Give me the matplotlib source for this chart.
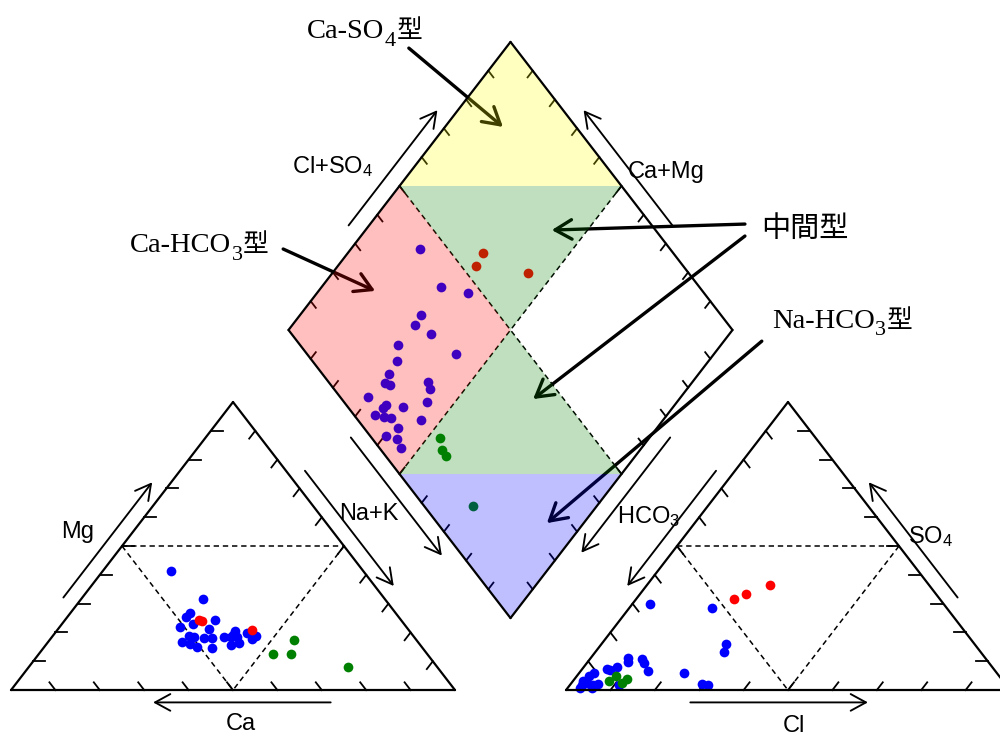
import numpy as np
import matplotlib
matplotlib.use('Agg')
import matplotlib.pyplot as plt

plt.rcParams['mathtext.default'] = 'regular'

# cation triangle, % (Ca = 100 - Mg - NaK)
cat_mg_blue = [41.4, 31.6, 26.8, 25.5, 22.8, 22.0, 18.8, 18.3, 16.8, 15.9, 14.8, 18.2, 18.2,
               21.1, 24.5, 14.5, 18.5, 18.3, 20.6, 18.5, 15.6, 16.2, 19.9, 17.9, 18.8, 19.1]
cat_nak_blue = [15.3, 27.5, 26.9, 26.6, 29.5, 27.1, 30.8, 32.1, 30.2, 32.4, 34.6, 34.4, 36.2,
                34.1, 33.7, 38.1, 38.7, 40.4, 40.2, 41.7, 41.7, 43.3, 43.1, 45.4, 45.8, 40.5]
cat_mg_red = [24.3, 20.9, 24.0]
cat_nak_red = [30.3, 43.8, 31.0]
cat_mg_green = [17.4, 12.7, 12.7, 8.1]
cat_nak_green = [55.1, 52.7, 56.8, 71.9]

# anion triangle, % (HCO3 = 100 - SO4 - Cl)
an_so4_blue = [29.8, 28.4, 16.0, 13.1, 5.8, 2.1, 1.6, 11.0, 9.8, 10.7, 9.5, 6.6, 8.1,
               6.9, 7.2, 6.0, 4.9, 3.2, 1.7, 1.7, 2.1, 2.3, 1.8, 0.9, 0.9]
an_cl_blue = [4.0, 18.7, 28.0, 29.0, 23.7, 29.5, 31.1, 8.4, 9.1, 11.8, 12.8, 15.2, 7.4,
              6.4, 5.6, 3.3, 2.8, 2.2, 2.7, 5.3, 6.2, 3.5, 11.0, 2.7, 5.3]
an_so4_red = [31.6, 33.4, 36.6]
an_cl_red = [22.1, 23.9, 27.6]
an_so4_green = [3.2, 5.0, 3.9, 2.3]
an_cl_green = [8.1, 8.8, 11.9, 11.4]

# diamond, % (Cl+SO4 and Na+K)
dia_clso4_blue = [43.7, 41.8, 46.9, 32.5, 29.4, 31.3, 22.0, 33.5, 19.1, 15.1, 12.4, 13.4, 22.3, 21.5,
                  6.2, 9.1, 7.6, 12.4, 18.8, 4.7, 6.4, 7.7, 14.2, 7.7, 3.6, 5.6, 4.9]
dia_nak_blue = [15.5, 26.9, 34.0, 27.2, 27.6, 32.7, 27.2, 42.0, 29.9, 30.3, 30.9, 32.5, 40.4, 42.1,
                29.6, 35.0, 34.8, 39.0, 43.7, 34.2, 36.6, 38.3, 45.5, 41.8, 40.4, 43.4, 45.9]
dia_clso4_red = [57.2, 53.4, 64.0]
dia_nak_red = [30.3, 31.1, 44.1]
dia_clso4_green = [15.4, 13.7, 13.6, 11.0]
dia_nak_green = [53.0, 55.4, 57.2, 72.2]

GAP = 0.25
H = np.sqrt(3) / 2

# geometry
A = np.array([0.0, 0.0]); Bv = np.array([1.0, 0.0]); C = np.array([0.5, H])
A2 = np.array([1 + GAP, 0.0]); B2 = np.array([2 + GAP, 0.0]); C2 = np.array([1.5 + GAP, H])
DB = np.array([1 + GAP / 2, H * GAP])
DL = DB + np.array([-0.5, H])
DR = DB + np.array([0.5, H])
DT = DL + np.array([0.5, H])
DC = (DL + DR) / 2


def cation_xy(mg, nak):
    mg = np.asarray(mg) / 100; nak = np.asarray(nak) / 100
    return nak + 0.5 * mg, H * mg


def anion_xy(so4, cl):
    so4 = np.asarray(so4) / 100; cl = np.asarray(cl) / 100
    return 1 + GAP + cl + 0.5 * so4, H * so4


def diamond_xy(clso4, nak):
    b = np.asarray(clso4) / 100; a = np.asarray(nak) / 100
    return DL[0] + 0.5 * (a + b), DL[1] + H * (b - a)


def edge(ax, p, q, nxt, tick, z=5):
    ax.plot([p[0], q[0]], [p[1], q[1]], color='black', lw=1.6, zorder=z, solid_capstyle='round')
    d = (nxt - q) / np.linalg.norm(nxt - q)
    for i in range(1, 10):
        s = p + (q - p) * i / 10
        ax.plot([s[0], s[0] + d[0] * tick], [s[1], s[1] + d[1] * tick], color='black', lw=1.3, zorder=2)


def axis_arrow(ax, p, q, t0, t1, off, centre):
    v = q - p
    n = np.array([-v[1], v[0]]) / np.linalg.norm(v)
    if np.dot(n, (p + q) / 2 - centre) < 0:
        n = -n
    s = p + v * t0 + n * off
    e = p + v * t1 + n * off
    ax.annotate('', xy=e, xytext=s,
                arrowprops=dict(arrowstyle='->,head_length=0.55,head_width=0.3', lw=1.35,
                                color='black', shrinkA=0, shrinkB=0, mutation_scale=20))


def dashed(ax, p, q):
    ax.plot([p[0], q[0]], [p[1], q[1]], color='black', lw=1.1, ls=(0, (3.5, 2.5)), zorder=2)


def note_arrow(ax, start, end):
    ax.annotate('', xy=end, xytext=start,
                arrowprops=dict(arrowstyle='->,head_length=0.6,head_width=0.35', lw=2.4,
                                color='black', shrinkA=0, shrinkB=0, mutation_scale=20), zorder=3)


def type_label(ax, x, y, main, sub, tail):
    serif = dict(family='Liberation Serif', color='black')
    t1 = ax.text(x, y, main, fontsize=20.5, ha='left', va='baseline', zorder=6, **serif)
    t2 = ax.annotate(sub, xy=(1, y), xycoords=(t1, 'data'), xytext=(0.3, -5.5),
                     textcoords='offset points', fontsize=16, ha='left', va='baseline', zorder=6, **serif)
    ax.annotate(tail, xy=(1, y), xycoords=(t2, 'data'), xytext=(0.5, 0),
                textcoords='offset points', fontsize=18.5, ha='left', va='baseline',
                family=['Noto Sans CJK JP', 'DejaVu Sans'], zorder=6)


fig = plt.figure(figsize=(10, 7.36), dpi=100)
ax = fig.add_axes([0, 0, 1, 1])
ax.set_xlim(-0.0248, 2.2275)
ax.set_ylim(-0.138, 2.0746)
ax.axis('off')

# triangles
tri_c = (A + Bv + C) / 3
edge(ax, A, Bv, C, 0.027)
edge(ax, Bv, C, A, 0.027)
edge(ax, C, A, Bv, 0.027)
tri_c2 = (A2 + B2 + C2) / 3
edge(ax, A2, C2, B2, 0.027)
edge(ax, C2, B2, A2, 0.027)
edge(ax, B2, A2, C2, 0.027)
for P, Q, R in [(A, Bv, C), (A2, B2, C2)]:
    mPR, mQR, mPQ = (P + R) / 2, (Q + R) / 2, (P + Q) / 2
    dashed(ax, mPR, mQR)
    dashed(ax, mPR, mPQ)
    dashed(ax, mQR, mPQ)

# diamond
edge(ax, DL, DT, DR, 0.023)
edge(ax, DT, DR, DB, 0.023)
edge(ax, DR, DB, DL, 0.023)
edge(ax, DB, DL, DT, 0.023)
mLT, mRT, mLB, mRB = (DL + DT) / 2, (DR + DT) / 2, (DL + DB) / 2, (DR + DB) / 2
dashed(ax, mLT, mRB)
dashed(ax, mRT, mLB)

# points
ms = 7.0
groups = [
    (cation_xy, [(cat_mg_blue, cat_nak_blue, 'blue'), (cat_mg_green, cat_nak_green, 'green'),
                 (cat_mg_red, cat_nak_red, 'red')]),
    (anion_xy, [(an_so4_blue, an_cl_blue, 'blue'), (an_so4_green, an_cl_green, 'green'),
                (an_so4_red, an_cl_red, 'red')]),
    (diamond_xy, [(dia_clso4_blue, dia_nak_blue, 'blue'), (dia_clso4_green, dia_nak_green, 'green'),
                  (dia_clso4_red, dia_nak_red, 'red')]),
]
for fx, series in groups:
    for u, v, col in series:
        x, y = fx(u, v)
        ax.plot(x, y, 'o', color=col, ms=ms, mec='none', zorder=3)

# coloured type regions, drawn over points
regions = [
    ([DT, mLT, mRT], '#ffff00'),
    ([mLT, mRT, DC], '#008000'),
    ([DL, mLT, DC, mLB], '#ff0000'),
    ([DC, mLB, mRB], '#008000'),
    ([mLB, mRB, DB], '#0000ff'),
]
for poly, col in regions:
    ax.fill([p[0] for p in poly], [p[1] for p in poly], color=col, alpha=0.25, lw=0, zorder=4)

# axis arrows
axis_arrow(ax, A, C, 0.30, 0.70, 0.037, tri_c)
axis_arrow(ax, C, Bv, 0.26, 0.66, 0.037, tri_c)
axis_arrow(ax, Bv, A, 0.28, 0.68, 0.037, tri_c)
axis_arrow(ax, C2, A2, 0.26, 0.66, 0.037, tri_c2)
axis_arrow(ax, A2, B2, 0.28, 0.68, 0.037, tri_c2)
axis_arrow(ax, B2, C2, 0.30, 0.70, 0.037, tri_c2)
axis_arrow(ax, DL, DT, 0.34, 0.74, 0.040, DC)
axis_arrow(ax, DR, DT, 0.34, 0.74, 0.040, DC)
axis_arrow(ax, DL, DB, 0.35, 0.76, 0.040, DC)
axis_arrow(ax, DR, DB, 0.35, 0.75, 0.040, DC)

sans = dict(family='Liberation Sans', fontsize=17, ha='center', va='baseline')
ax.text(0.150, 0.457, 'Mg', **sans)
ax.text(0.806, 0.511, 'Na+K', **sans)
ax.text(0.518, -0.120, 'Ca', **sans)
ax.text(1.764, -0.126, 'Cl', **sans)
ax.text(2.072, 0.443, 'SO$_4$', **sans)
ax.text(1.436, 0.501, 'HCO$_3$', **sans)
ax.text(0.725, 1.555, 'Cl+SO$_4$', **sans)
ax.text(1.475, 1.538, 'Ca+Mg', **sans)

# water type annotations
type_label(ax, 0.667, 1.960, 'Ca-SO', '4', '型')
type_label(ax, 0.268, 1.317, 'Ca-HCO', '3', '型')
type_label(ax, 1.714, 1.089, 'Na-HCO', '3', '型')
ax.text(1.689, 1.362, '中間型', fontsize=21, ha='left', va='baseline',
        family=['Noto Sans CJK JP', 'DejaVu Sans'], zorder=6)

note_arrow(ax, (0.896, 1.930), (1.108, 1.693))
note_arrow(ax, (0.613, 1.326), (0.820, 1.200))
note_arrow(ax, (1.653, 1.401), (1.218, 1.383))
note_arrow(ax, (1.653, 1.365), (1.176, 0.875))
note_arrow(ax, (1.691, 1.049), (1.207, 0.502))

fig.savefig('out.png', dpi=100)
